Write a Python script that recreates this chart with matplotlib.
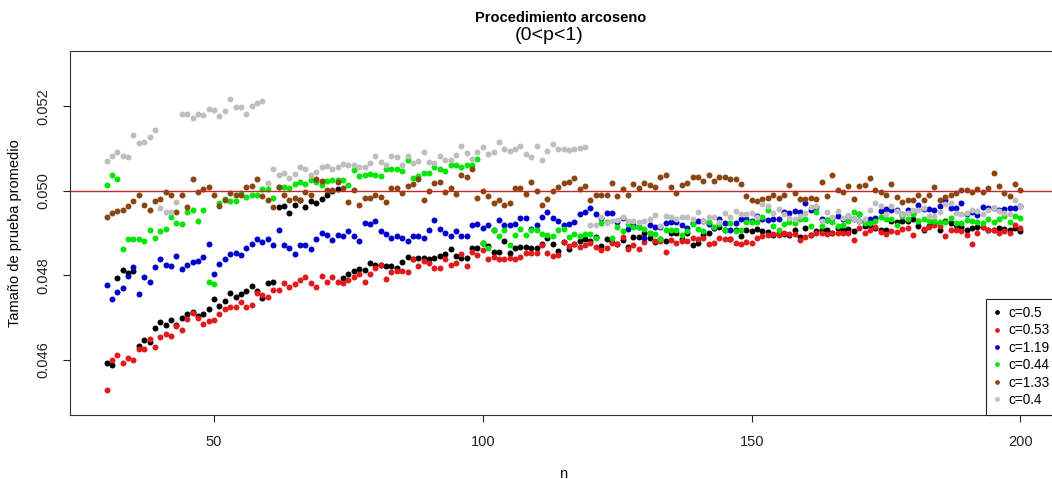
import numpy as np
import matplotlib
matplotlib.use("Agg")
import matplotlib.pyplot as plt

plt.rcParams['font.family'] = ['Liberation Sans', 'DejaVu Sans']

# tamaño de muestra
n = np.arange(30, 201)

# tamaño de prueba promedio para cada c
c_05 = [0.04591, 0.04587, 0.04793, 0.04813, 0.04805, 0.04809, 0.04632, 0.04647, 0.04641, 0.04675,
        0.04690, 0.04681, 0.04695, 0.04683, 0.04699, 0.04709, 0.04712, 0.04704, 0.04709, 0.04719,
        0.04743, 0.04727, 0.04739, 0.04759, 0.04749, 0.04756, 0.04763, 0.04775,
        0.04763, 0.04746, 0.04781, 0.04785, 0.04961, 0.04965, 0.04948, 0.04967, 0.04979, 0.04961,
        0.04975, 0.04971, 0.04980, 0.04989, 0.05000, 0.05004, 0.04793, 0.04802, 0.04811, 0.04814,
        0.04813, 0.04828, 0.04824, 0.04824, 0.04823, 0.04821, 0.04816, 0.04831, 0.04844, 0.04839,
        0.04840, 0.04840, 0.04838, 0.04840, 0.04846, 0.04850, 0.04861, 0.04846, 0.04840, 0.04840,
        0.04864, 0.04864, 0.04877, 0.04869, 0.04856, 0.04856, 0.04880, 0.04852, 0.04864, 0.04866,
        0.04866, 0.04865, 0.04865, 0.04873, 0.04888, 0.04875, 0.04857, 0.04879, 0.04861, 0.04873,
        0.04882, 0.04885, 0.04882, 0.04890, 0.04869, 0.04885, 0.04879, 0.04873, 0.04883, 0.04867,
        0.04891, 0.04891, 0.04899, 0.04887, 0.04879, 0.04885, 0.04882, 0.04899, 0.04899, 0.04885,
        0.04899, 0.04872, 0.04877, 0.04895, 0.04901, 0.04913, 0.04914, 0.04908, 0.04885, 0.04908,
        0.04893,
        0.04906, 0.04904, 0.04909, 0.04904, 0.04902, 0.04896, 0.04900, 0.04897, 0.04896, 0.04908,
        0.04891, 0.04911, 0.04896, 0.04904, 0.04908, 0.04907, 0.04899, 0.04911, 0.04907, 0.04910,
        0.04904, 0.04928, 0.04916, 0.04918, 0.04912, 0.04908, 0.04906, 0.04928,
        0.04926, 0.04928, 0.04928, 0.04932, 0.04916, 0.04908, 0.04916, 0.04924, 0.04906, 0.04928,
        0.04924, 0.04920, 0.04914, 0.04908, 0.04911, 0.04914, 0.04914, 0.04908, 0.04906, 0.04911,
        0.04910, 0.04906, 0.04911, 0.04904]

c_053 = [0.04529, 0.04599, 0.04610, 0.04593, 0.04603, 0.04599, 0.04624, 0.04624, 0.04648, 0.04629,
         0.04654, 0.04661, 0.04657, 0.04679, 0.04671, 0.04697, 0.04710, 0.04698, 0.04685, 0.04692,
         0.04695, 0.04709, 0.04721, 0.04725, 0.04725, 0.04736, 0.04725, 0.04730,
         0.04758, 0.04752, 0.04749, 0.04766, 0.04766, 0.04781, 0.04771, 0.04780, 0.04788, 0.04795,
         0.04781, 0.04771, 0.04797, 0.04783, 0.04795, 0.04785, 0.04781, 0.04788, 0.04795, 0.04802,
         0.04783, 0.04802, 0.04816, 0.04824, 0.04792, 0.04807, 0.04810, 0.04810, 0.04807, 0.04838,
         0.04821, 0.04834, 0.04830, 0.04817, 0.04817, 0.04839, 0.04824, 0.04830, 0.04850, 0.04821,
         0.04855, 0.04847, 0.04860, 0.04839, 0.04842, 0.04838, 0.04838, 0.04840, 0.04838, 0.04842,
         0.04853, 0.04853, 0.04853, 0.04871, 0.04853, 0.04846, 0.04847, 0.04879, 0.04869, 0.04875,
         0.04867, 0.04871, 0.04877, 0.04867, 0.04859, 0.04864, 0.04877, 0.04873, 0.04890, 0.04861,
         0.04871, 0.04861, 0.04879, 0.04901, 0.04882, 0.04882, 0.04856, 0.04883, 0.04877, 0.04882,
         0.04882, 0.04887, 0.04885, 0.04887, 0.04875, 0.04877, 0.04889, 0.04885, 0.04885, 0.04877,
         0.04875,
         0.04879, 0.04877, 0.04887, 0.04893, 0.04895, 0.04897, 0.04895, 0.04899, 0.04897, 0.04897,
         0.04883, 0.04891, 0.04896, 0.04899, 0.04899, 0.04897, 0.04901, 0.04901, 0.04901, 0.04901,
         0.04883, 0.04911, 0.04901, 0.04908, 0.04915, 0.04903, 0.04897, 0.04904,
         0.04902, 0.04910, 0.04912, 0.04896, 0.04928, 0.04910, 0.04914, 0.04919, 0.04916, 0.04893,
         0.04908, 0.04907, 0.04904, 0.04896, 0.04875, 0.04901, 0.04914, 0.04908, 0.04908, 0.04901,
         0.04904, 0.04900, 0.04919, 0.04911]

c_119 = [0.04777, 0.04743, 0.04761, 0.04770, 0.04797, 0.04819, 0.04755, 0.04795, 0.04785, 0.04819,
         0.04839, 0.04825, 0.04821, 0.04845, 0.04815, 0.04824, 0.04831, 0.04833, 0.04843, 0.04875,
         0.04803, 0.04827, 0.04839, 0.04850, 0.04853, 0.04847, 0.04865, 0.04873,
         0.04886, 0.04879, 0.04886, 0.04871, 0.04908, 0.04871, 0.04865, 0.04850, 0.04871, 0.04871,
         0.04861, 0.04886, 0.04900, 0.04896, 0.04883, 0.04896, 0.04892, 0.04904, 0.04894, 0.04882,
         0.04924, 0.04922, 0.04928, 0.04904, 0.04897, 0.04887, 0.04892, 0.04887, 0.04882, 0.04892,
         0.04894, 0.04889, 0.04906, 0.04930, 0.04910, 0.04900, 0.04894, 0.04904, 0.04893, 0.04893,
         0.04919, 0.04922, 0.04911, 0.04919, 0.04906, 0.04930, 0.04920, 0.04919, 0.04922, 0.04935,
         0.04935, 0.04910, 0.04920, 0.04937, 0.04949, 0.04935, 0.04928, 0.04919, 0.04922, 0.04925,
         0.04946, 0.04950, 0.04959, 0.04946, 0.04936, 0.04948, 0.04948, 0.04926, 0.04936, 0.04909,
         0.04918, 0.04915, 0.04889, 0.04919, 0.04914, 0.04915, 0.04923, 0.04926, 0.04926, 0.04920,
         0.04911, 0.04923, 0.04928, 0.04928, 0.04922, 0.04911, 0.04932, 0.04924, 0.04908, 0.04924,
         0.04932,
         0.04932, 0.04928, 0.04940, 0.04933, 0.04930, 0.04933, 0.04933, 0.04950, 0.04948, 0.04951,
         0.04950, 0.04971, 0.04955, 0.04962, 0.04932, 0.04930, 0.04935, 0.04940, 0.04933, 0.04940,
         0.04932, 0.04946, 0.04928, 0.04933, 0.04936, 0.04951, 0.04958, 0.04954,
         0.04955, 0.04944, 0.04955, 0.04948, 0.04966, 0.04958, 0.04958, 0.04955, 0.04963, 0.04977,
         0.04959, 0.04959, 0.04971, 0.04945, 0.04950, 0.04942, 0.04962, 0.04959, 0.04959, 0.04955,
         0.04958, 0.04959, 0.04959, 0.04963]

c_044 = [0.05013, 0.05038, 0.05027, 0.04863, 0.04885, 0.04885, 0.04885, 0.04881, 0.04908, 0.04887,
         0.04904, 0.04910, 0.04937, 0.04923, 0.04921, 0.04949, 0.04955, 0.04929, 0.04954, 0.04783,
         0.04779, 0.04971, 0.04981, 0.04975, 0.04975, 0.04995, 0.04985, 0.04991,
         0.04991, 0.05005, 0.05005, 0.04983, 0.05009, 0.05009, 0.05007, 0.05017, 0.05021, 0.05016,
         0.05026, 0.05021, 0.05013, 0.05024, 0.05025, 0.05025, 0.05025, 0.05013, 0.05049, 0.05034,
         0.05038, 0.05039, 0.05038, 0.05035, 0.05052, 0.05052, 0.05052, 0.05046, 0.05073, 0.05030,
         0.05036, 0.05042, 0.05042, 0.05056, 0.05052, 0.05046, 0.05060, 0.05062, 0.05056, 0.05060,
         0.05062, 0.05075, 0.04877, 0.04865, 0.04906, 0.04893, 0.04906, 0.04871, 0.04896, 0.04910,
         0.04896, 0.04908, 0.04906, 0.04897, 0.04896, 0.04893, 0.04908, 0.04910, 0.04890, 0.04898,
         0.04894, 0.04897, 0.04897, 0.04889, 0.04924, 0.04926, 0.04888, 0.04914, 0.04904, 0.04922,
         0.04915, 0.04915, 0.04910, 0.04899, 0.04897, 0.04886, 0.04908, 0.04908, 0.04908, 0.04895,
         0.04904, 0.04922, 0.04909, 0.04904, 0.04926, 0.04915, 0.04922, 0.04908, 0.04924, 0.04904,
         0.04908,
         0.04927, 0.04926, 0.04926, 0.04938, 0.04955, 0.04916, 0.04908, 0.04922, 0.04926, 0.04924,
         0.04932, 0.04933, 0.04916, 0.04950, 0.04916, 0.04930, 0.04926, 0.04916, 0.04920, 0.04929,
         0.04950, 0.04944, 0.04924, 0.04924, 0.04928, 0.04938, 0.04932, 0.04932,
         0.04920, 0.04941, 0.04932, 0.04944, 0.04928, 0.04932, 0.04929, 0.04928, 0.04926, 0.04927,
         0.04936, 0.04924, 0.04924, 0.04930, 0.04928, 0.04926, 0.04924, 0.04932, 0.04926, 0.04933,
         0.04940, 0.04926, 0.04941, 0.04935]

c_133 = [0.04937, 0.04947, 0.04951, 0.04955, 0.04965, 0.04976, 0.04991, 0.04967, 0.04954, 0.04976,
         0.04981, 0.04998, 0.04991, 0.04949, 0.04989, 0.04962, 0.05027, 0.04998, 0.05005, 0.05009,
         0.04989, 0.04964, 0.04978, 0.04995, 0.04989, 0.04989, 0.05008, 0.05012,
         0.05027, 0.04988, 0.04979, 0.04961, 0.05009, 0.04991, 0.04979, 0.04983, 0.04977, 0.04996,
         0.04989, 0.05029, 0.05024, 0.05003, 0.05001, 0.05022, 0.05007, 0.04973, 0.05001, 0.04967,
         0.04984, 0.04984, 0.04991, 0.04985, 0.04973, 0.05006, 0.05007, 0.04995, 0.05011, 0.05017,
         0.05028, 0.04977, 0.05000, 0.05018, 0.05020, 0.04998, 0.05006, 0.04993, 0.05038, 0.05032,
         0.05052, 0.04983, 0.05000, 0.04988, 0.04972, 0.04977, 0.04966, 0.04972, 0.05006, 0.05006,
         0.04993, 0.05020, 0.05000, 0.04966, 0.04980, 0.05000, 0.05008, 0.05018, 0.05022, 0.05031,
         0.05004, 0.05012, 0.04979, 0.04991, 0.04991, 0.04990, 0.05019, 0.04988, 0.05004, 0.04990,
         0.05017, 0.05006, 0.05019, 0.05014, 0.05008, 0.05032, 0.05037, 0.05010, 0.04995, 0.05014,
         0.05019, 0.05032, 0.05032, 0.05024, 0.05037, 0.05024, 0.05032, 0.05032, 0.05028, 0.05028,
         0.05016,
         0.04988, 0.04979, 0.04975, 0.04981, 0.04984, 0.04991, 0.04984, 0.04991, 0.05014, 0.04995,
         0.04981, 0.04981, 0.04984, 0.04981, 0.05020, 0.04987, 0.05037, 0.05003, 0.04998, 0.05012,
         0.04981, 0.05012, 0.05014, 0.05030, 0.05002, 0.04998, 0.04991, 0.05017,
         0.04985, 0.04973, 0.04979, 0.04979, 0.04991, 0.04977, 0.04991, 0.05009, 0.04977, 0.04985,
         0.04989, 0.04995, 0.05003, 0.05002, 0.04997, 0.05004, 0.04998, 0.05007, 0.05043, 0.05011,
         0.04994, 0.04988, 0.05015, 0.05003]

c_04 = [0.05071, 0.05082, 0.05092, 0.05082, 0.05079, 0.05133, 0.05114, 0.05115, 0.05127, 0.05144,
        0.04959, 0.04949, 0.04949, 0.04973, 0.05183, 0.05183, 0.05173, 0.05181, 0.05180, 0.05193,
        0.05191, 0.05177, 0.05188, 0.05217, 0.05198, 0.05198, 0.05183, 0.05200,
        0.05209, 0.05212, 0.05018, 0.05052, 0.05038, 0.05043, 0.05030, 0.05040, 0.05057, 0.05052,
        0.05038, 0.05044, 0.05057, 0.05059, 0.05052, 0.05057, 0.05064, 0.05062, 0.05062, 0.05057,
        0.05056, 0.05065, 0.05083, 0.05069, 0.05061, 0.05082, 0.05079, 0.05060, 0.05082, 0.05065,
        0.05071, 0.05093, 0.05069, 0.05067, 0.05082, 0.05074, 0.05074, 0.05085, 0.05107, 0.05089,
        0.05075, 0.05093, 0.05104, 0.05087, 0.05091, 0.05115, 0.05099, 0.05095, 0.05099, 0.05105,
        0.05087, 0.05081, 0.05107, 0.05073, 0.05095, 0.05112, 0.05099, 0.05099, 0.05096, 0.05100,
        0.05101, 0.05103,
        0.04920, 0.04920, 0.04938, 0.04924, 0.04928, 0.04930, 0.04937, 0.04928, 0.04928, 0.04926,
        0.04928, 0.04932, 0.04942, 0.04916, 0.04940, 0.04938, 0.04932, 0.04938, 0.04937, 0.04932,
        0.04950, 0.04928, 0.04938, 0.04938, 0.04926, 0.04948, 0.04937,
        0.04951, 0.04944,
        0.04945, 0.04948, 0.04937, 0.04969, 0.04965, 0.04948, 0.04957, 0.04944, 0.04936, 0.04932,
        0.04940, 0.04948, 0.04962, 0.04965, 0.04928, 0.04950, 0.04938, 0.04952, 0.04935, 0.04941,
        0.04933, 0.04928, 0.04932, 0.04955, 0.04970, 0.04963, 0.04944, 0.04963,
        0.04951, 0.04944, 0.04948, 0.04954, 0.04955, 0.04959, 0.04941, 0.04940, 0.04950, 0.04969,
        0.04971, 0.04948, 0.04944, 0.04948, 0.04955, 0.04951, 0.04944, 0.04955, 0.04959, 0.04951,
        0.04948, 0.04944, 0.04979, 0.04963]

series = [c_05, c_053, c_119, c_044, c_133, c_04]
etiquetas = ['c=0.5', 'c=0.53', 'c=1.19', 'c=0.44', 'c=1.33', 'c=0.4']
colores = ['#000000', '#e31a1c', '#0000cd', '#00e600', '#8b4513', '#bebebe']

fig = plt.figure(figsize=(10.52, 4.79), dpi=100)
ax = fig.add_axes([70 / 1052, (479 - 414.5) / 479, 987 / 1052, 363 / 479])

for ys, lab, col in zip(series, etiquetas, colores):
    ax.plot(n, ys, linestyle='none', marker='o', markersize=4.3,
            markeredgewidth=0, color=col, label=lab)

ax.axhline(0.05, color='#c0282a', linewidth=1)

ax.set_xlim(23.2, 206.8)
ax.set_ylim(0.04470, 0.05330)
ax.set_xticks([50, 100, 150, 200])
ax.set_yticks([0.046, 0.048, 0.050, 0.052])
ax.set_yticklabels(['0.046', '0.048', '0.050', '0.052'], rotation=90, va='center')
ax.tick_params(direction='out', length=5, width=0.8, labelsize=10.5, colors='#222222')
ax.tick_params(axis='x', pad=10)
ax.tick_params(axis='y', pad=9)
for s in ax.spines.values():
    s.set_linewidth(0.8)
    s.set_color('#333333')

ax.set_xlabel('n', fontsize=10.5)
ax.xaxis.set_label_coords(0.5, -0.145)
ax.set_ylabel('Tamaño de prueba promedio', fontsize=10.5)
ax.yaxis.set_label_coords(-0.049, 0.5)

fig.text(561 / 1052, 1 - 18 / 479, 'Procedimiento arcoseno', ha='center', va='center',
         fontsize=10.5, fontweight='bold')
fig.text(549 / 1052, 1 - 36 / 479, '(0<p<1)', ha='center', va='center', fontsize=14)

leg = ax.legend(loc='lower right', borderaxespad=0, fancybox=False, edgecolor='#222222',
                fontsize=9.8, handlelength=0.6, handletextpad=0.5, labelspacing=0.25,
                borderpad=0.55, markerscale=0.8, framealpha=1)
leg.get_frame().set_linewidth(0.8)

fig.savefig('out.png', dpi=100)
